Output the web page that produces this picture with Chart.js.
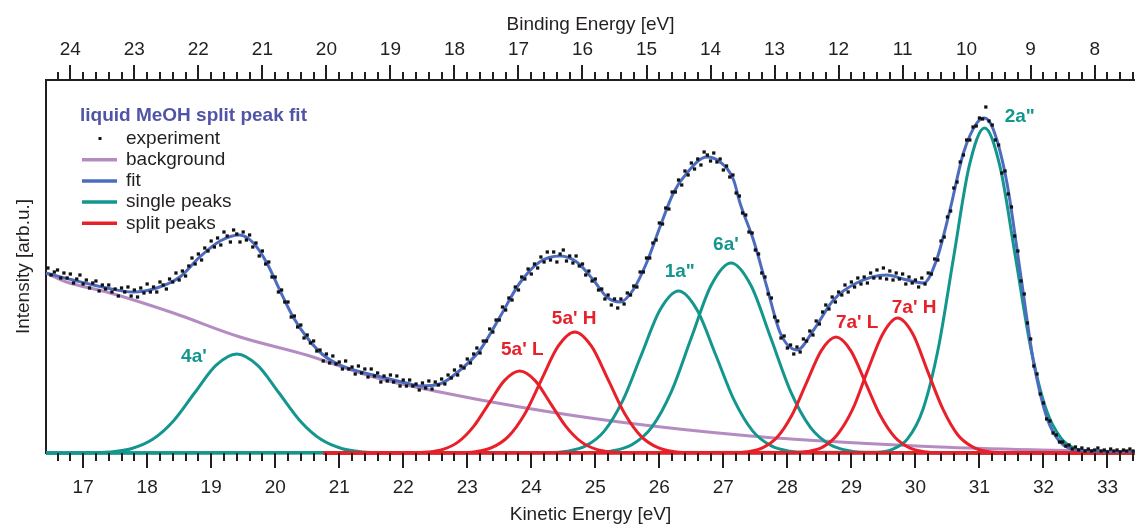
<!DOCTYPE html>
<html>
<head>
<meta charset="utf-8">
<script src="https://cdn.jsdelivr.net/npm/chart.js@4.4.1/dist/chart.umd.min.js"></script>
<style>
  html, body { margin: 0; padding: 0; background: #ffffff; }
  #contenedor { width: 1135px; height: 526px; }
</style>
</head>
<body>
<div id="contenedor"><canvas id="grafico" width="1135" height="526"></canvas></div>
<script>
// Espectro de fotoemisión de MeOH líquido (He II, 40.8 eV)
const energiaFoton = 40.8;
const keMin = 16.42;
const keMax = 33.43;

// Experimento: energía cinética inicial y paso (eV), 20 valores por línea (1 eV)
const expInicio = 16.45;
const expPaso = 0.05;
const experimento = [
  1.85,1.78,1.81,1.83,1.75,1.80,1.75,1.79,1.70,1.74,1.78,1.69,1.73,1.65,1.70,1.72,1.62,1.68,1.64,1.68,
  1.61,1.64,1.57,1.65,1.61,1.66,1.57,1.63,1.56,1.65,1.60,1.69,1.61,1.66,1.61,1.71,1.68,1.64,1.74,1.71,
  1.80,1.73,1.82,1.77,1.87,1.95,1.89,1.99,1.93,2.05,2.02,2.12,2.06,2.15,2.08,2.21,2.17,2.11,2.23,2.19,
  2.11,2.21,2.13,2.18,2.06,2.10,1.97,2.02,1.89,1.91,1.76,1.76,1.61,1.63,1.51,1.51,1.36,1.37,1.26,1.28,
  1.15,1.18,1.10,1.12,1.02,1.03,0.92,0.99,0.90,0.97,0.89,0.91,0.84,0.92,0.84,0.86,0.79,0.87,0.80,0.84,
  0.76,0.84,0.77,0.80,0.71,0.77,0.72,0.78,0.71,0.77,0.67,0.73,0.67,0.73,0.67,0.69,0.63,0.70,0.65,0.72,
  0.64,0.71,0.68,0.74,0.69,0.78,0.75,0.83,0.78,0.87,0.85,0.94,0.90,0.99,1.05,1.00,1.12,1.12,1.24,1.21,
  1.33,1.33,1.46,1.43,1.55,1.53,1.66,1.63,1.76,1.74,1.84,1.79,1.89,1.85,1.96,1.91,2.01,1.93,2.01,1.91,
  1.99,2.03,1.92,1.97,1.90,1.97,1.87,1.89,1.78,1.82,1.72,1.74,1.63,1.64,1.54,1.58,1.48,1.54,1.45,1.54,
  1.49,1.60,1.58,1.67,1.66,1.81,1.81,1.95,1.95,2.10,2.13,2.30,2.29,2.45,2.44,2.61,2.61,2.73,2.68,2.82,
  2.78,2.90,2.84,2.94,2.88,3.01,2.98,2.92,3.00,2.91,2.94,2.83,2.87,2.76,2.78,2.60,2.57,2.40,2.38,2.21,
  2.20,2.03,1.99,1.80,1.76,1.59,1.55,1.36,1.32,1.15,1.17,1.05,1.08,0.99,1.06,1.01,1.14,1.12,1.22,1.18,
  1.32,1.29,1.41,1.48,1.44,1.56,1.51,1.61,1.58,1.68,1.61,1.71,1.66,1.75,1.69,1.76,1.70,1.80,1.75,1.83,
  1.75,1.85,1.74,1.82,1.73,1.80,1.74,1.79,1.69,1.76,1.70,1.73,1.66,1.75,1.69,1.80,1.79,1.94,1.93,2.12,
  2.16,2.36,2.42,2.65,2.71,2.91,2.98,3.13,3.13,3.26,3.27,3.35,3.34,3.46,3.32,3.28,3.13,3.08,2.80,2.82,
  2.59,2.46,2.17,2.02,1.72,1.59,1.30,1.14,0.87,0.79,0.59,0.50,0.34,0.32,0.20,0.18,0.11,0.11,0.07,0.08,
  0.04,0.06,0.03,0.05,0.02,0.04,0.02,0.03,0.05,0.02,0.03,0.01,0.04,0.02,0.03,0.01,0.03,0.02,0.04,0.02
];

// Fondo y ajuste total: [energía cinética, intensidad]
const fondo = [
  [16.42,1.80],[16.74,1.71],[17.37,1.61],[18.41,1.40],[19.45,1.16],[20.49,0.98],[21.53,0.76],
  [22.57,0.61],[23.82,0.46],[25.38,0.31],[27.42,0.17],[28.82,0.11],[30.38,0.06],[31.95,0.03],[33.43,0.01]
];
const ajuste = [
  [16.42,1.80],[16.84,1.73],[17.37,1.65],[17.78,1.61],[18.15,1.65],[18.51,1.76],[18.82,1.96],
  [19.14,2.12],[19.44,2.18],[19.66,2.10],[19.87,1.90],[20.07,1.63],[20.28,1.36],[20.49,1.16],
  [20.75,0.98],[21.01,0.88],[21.53,0.78],[22.05,0.70],[22.26,0.67],[22.57,0.69],[22.89,0.83],
  [23.20,1.03],[23.51,1.36],[23.82,1.70],[24.13,1.91],[24.45,1.97],[24.71,1.91],[24.97,1.73],
  [25.18,1.56],[25.39,1.51],[25.59,1.63],[25.80,1.90],[26.01,2.26],[26.22,2.60],[26.43,2.80],
  [26.74,2.96],[26.95,2.91],[27.16,2.73],[27.26,2.50],[27.47,2.13],[27.68,1.66],[27.89,1.20],
  [28.15,1.03],[28.41,1.23],[28.72,1.53],[29.08,1.70],[29.55,1.78],[29.87,1.73],[30.13,1.70],
  [30.33,1.93],[30.54,2.43],[30.75,3.00],[30.96,3.30],[31.08,3.35],[31.22,3.23],[31.43,2.70],
  [31.64,1.80],[31.84,0.93],[32.05,0.36],[32.26,0.11],[32.57,0.03],[33.43,0.01]
];

// Picos individuales (single) y picos divididos (split)
const pico4a = [[16.42,0],[17.09,0.002],[17.42,0.011],[17.75,0.043],[18.08,0.134],[18.41,0.321],[18.74,0.600],[19.07,0.874],[19.40,0.99],[19.73,0.874],[20.06,0.600],[20.39,0.321],[20.72,0.134],[21.05,0.043],[21.38,0.011],[21.71,0.002],[33.43,0]];
const pico1a = [[16.42,0],[24.27,0.004],[24.56,0.018],[24.85,0.071],[25.14,0.219],[25.43,0.526],[25.72,0.983],[26.01,1.430],[26.30,1.62],[26.59,1.430],[26.88,0.983],[27.17,0.526],[27.46,0.219],[27.75,0.071],[28.04,0.018],[28.33,0.004],[33.43,0]];
const pico6a = [[16.42,0],[24.95,0.004],[25.26,0.021],[25.57,0.083],[25.88,0.257],[26.19,0.617],[26.50,1.152],[26.81,1.677],[27.12,1.90],[27.43,1.677],[27.74,1.152],[28.05,0.617],[28.36,0.257],[28.67,0.083],[28.98,0.021],[29.29,0.004],[33.43,0]];
const pico2a = [[16.42,0],[29.40,0.007],[29.64,0.036],[29.88,0.143],[30.12,0.440],[30.36,1.055],[30.60,1.971],[30.84,2.868],[31.08,3.25],[31.32,2.868],[31.56,1.971],[31.80,1.055],[32.04,0.440],[32.28,0.143],[32.52,0.036],[32.76,0.007],[33.43,0]];
const pico5aL = [[20.75,0],[22.14,0.002],[22.38,0.009],[22.62,0.036],[22.86,0.111],[23.10,0.266],[23.34,0.497],[23.58,0.724],[23.82,0.82],[24.06,0.724],[24.30,0.497],[24.54,0.266],[24.78,0.111],[25.02,0.036],[25.26,0.009],[25.50,0.002],[33.43,0]];
const pico5aH = [[20.75,0],[22.86,0.003],[23.12,0.013],[23.38,0.053],[23.64,0.164],[23.90,0.393],[24.16,0.734],[24.42,1.068],[24.68,1.21],[24.94,1.068],[25.20,0.734],[25.46,0.393],[25.72,0.164],[25.98,0.053],[26.24,0.013],[26.50,0.003],[33.43,0]];
const pico7aL = [[20.75,0],[27.15,0.003],[27.38,0.013],[27.61,0.051],[27.84,0.157],[28.07,0.377],[28.30,0.704],[28.53,1.024],[28.76,1.16],[28.99,1.024],[29.22,0.704],[29.45,0.377],[29.68,0.157],[29.91,0.051],[30.14,0.013],[30.37,0.003],[33.43,0]];
const pico7aH = [[20.75,0],[28.08,0.003],[28.31,0.015],[28.55,0.059],[28.78,0.183],[29.02,0.438],[29.25,0.819],[29.49,1.191],[29.72,1.35],[29.96,1.191],[30.19,0.819],[30.43,0.438],[30.66,0.183],[30.90,0.059],[31.13,0.015],[31.37,0.003],[33.43,0]];

// Etiquetas de los picos
const nombresPicos = ["4a'", "5a' L", "5a' H", '1a"', "6a'", "7a' L", "7a' H", '2a"'];
const etiquetaKE = [18.73, 23.86, 24.67, 26.32, 27.04, 29.09, 29.98, 31.63];
const etiquetaVal = [0.96, 1.03, 1.34, 1.81, 2.08, 1.30, 1.45, 3.36];
const etiquetaDividido = [false, true, true, false, false, true, true, false];

// Leyenda
const tituloLeyenda = 'liquid MeOH split peak fit';
const textosLeyenda = ['experiment', 'background', 'fit', 'single peaks', 'split peaks'];

const colorEjes = '#231f20';
const colorSingle = '#13968e';
const colorSplit = '#e8202a';
const colorFit = '#4d6cbf';
const colorFondo = '#b48cc2';
const colorTitulo = '#5154a6';
const fuente = '"Liberation Sans", Arial, sans-serif';

const aPuntos = (lista) => lista.map(p => ({ x: p[0], y: p[1] }));
const puntosExp = experimento.map((v, i) => ({ x: expInicio + i * expPaso, y: v }));

function lineaPico(datos, color) {
  return {
    data: aPuntos(datos), borderColor: color, borderWidth: 3, pointRadius: 0,
    cubicInterpolationMode: 'monotone', fill: false, clip: 3,
    order: color === colorSplit ? 2 : 3
  };
}

// Quitar el relleno automático que Chart.js reserva para las etiquetas
function ajustarEjeX(alto) {
  return (s) => { s.height = alto; s.paddingLeft = 0; s.paddingRight = 0; };
}

// Marcas menores y mayores de los ejes horizontales
const marcasEjes = {
  id: 'marcasEjes',
  afterDraw(chart) {
    const ctx = chart.ctx;
    ctx.save();
    ctx.strokeStyle = colorEjes;
    ctx.lineWidth = 2;
    ['x', 'x2'].forEach(id => {
      const s = chart.scales[id];
      const desde = Math.ceil(s.min * 5);
      const hasta = Math.floor(s.max * 5);
      for (let i = desde; i <= hasta; i++) {
        const px = Math.round(s.getPixelForValue(i / 5));
        const largo = i % 5 === 0 ? 15 : 8;
        ctx.beginPath();
        if (id === 'x') {
          ctx.moveTo(px, s.top); ctx.lineTo(px, s.top + largo);
        } else {
          ctx.moveTo(px, s.bottom); ctx.lineTo(px, s.bottom - largo);
        }
        ctx.stroke();
      }
    });
    ctx.restore();
  }
};

// Etiquetas de picos y leyenda
const textos = {
  id: 'textos',
  afterDraw(chart) {
    const ctx = chart.ctx;
    const sx = chart.scales.x;
    const sy = chart.scales.y;
    ctx.save();
    ctx.font = 'bold 19px ' + fuente;
    ctx.textAlign = 'center';
    ctx.textBaseline = 'middle';
    for (let i = 0; i < nombresPicos.length; i++) {
      ctx.fillStyle = etiquetaDividido[i] ? colorSplit : colorSingle;
      ctx.fillText(nombresPicos[i], sx.getPixelForValue(etiquetaKE[i]), sy.getPixelForValue(etiquetaVal[i]));
    }

    ctx.textAlign = 'left';
    ctx.fillStyle = colorTitulo;
    ctx.fillText(tituloLeyenda, 80, 116);
    const colores = [null, colorFondo, colorFit, colorSingle, colorSplit];
    ctx.font = '19px ' + fuente;
    for (let i = 0; i < textosLeyenda.length; i++) {
      const y = 138.5 + i * 21.2;
      if (i === 0) {
        ctx.fillStyle = '#111111';
        ctx.fillRect(98.5, y - 1.5, 3, 3);
      } else {
        ctx.strokeStyle = colores[i];
        ctx.lineWidth = 3.5;
        ctx.beginPath();
        ctx.moveTo(82, y);
        ctx.lineTo(117, y);
        ctx.stroke();
      }
      ctx.fillStyle = colorEjes;
      ctx.fillText(textosLeyenda[i], 126, y);
    }
    ctx.restore();
  }
};

const fuenteEje = { family: fuente, size: 19 };

new Chart(document.getElementById('grafico'), {
  type: 'line',
  data: {
    datasets: [
      { type: 'scatter', data: puntosExp, showLine: false, pointStyle: 'rect', pointRadius: 2.3,
        pointBackgroundColor: '#111111', pointBorderWidth: 0, order: 0 },
      { data: aPuntos(ajuste), borderColor: colorFit, borderWidth: 3, pointRadius: 0,
        cubicInterpolationMode: 'monotone', order: 1 },
      lineaPico(pico5aL, colorSplit),
      lineaPico(pico5aH, colorSplit),
      lineaPico(pico7aL, colorSplit),
      lineaPico(pico7aH, colorSplit),
      lineaPico(pico4a, colorSingle),
      lineaPico(pico1a, colorSingle),
      lineaPico(pico6a, colorSingle),
      lineaPico(pico2a, colorSingle),
      { data: aPuntos(fondo), borderColor: colorFondo, borderWidth: 3, pointRadius: 0,
        cubicInterpolationMode: 'monotone', order: 4 }
    ]
  },
  options: {
    responsive: false,
    animation: false,
    devicePixelRatio: 1,
    layout: { padding: 0, autoPadding: false },
    plugins: { legend: { display: false }, tooltip: { enabled: false } },
    scales: {
      x: {
        type: 'linear', position: 'bottom', min: keMin, max: keMax,
        afterFit: ajustarEjeX(73),
        ticks: { stepSize: 1, includeBounds: false, autoSkip: false, maxRotation: 0,
          color: colorEjes, font: fuenteEje, padding: 23 },
        grid: { display: false, drawTicks: false },
        border: { display: true, color: colorEjes, width: 2 },
        title: { display: true, text: 'Kinetic Energy [eV]', color: colorEjes, font: fuenteEje,
          padding: { top: 0, bottom: 0 } }
      },
      x2: {
        type: 'linear', position: 'top', reverse: true,
        min: energiaFoton - keMax, max: energiaFoton - keMin,
        afterFit: ajustarEjeX(80),
        ticks: { stepSize: 1, includeBounds: false, autoSkip: false, maxRotation: 0,
          color: colorEjes, font: fuenteEje, padding: 19 },
        grid: { display: false, drawTicks: false },
        border: { display: true, color: colorEjes, width: 2 },
        title: { display: true, text: 'Binding Energy [eV]', color: colorEjes, font: fuenteEje,
          padding: { top: 13, bottom: 0 } }
      },
      y: {
        type: 'linear', min: 0, max: 3.73,
        afterFit: (s) => { s.width = 46; s.paddingTop = 0; s.paddingBottom = 0; },
        ticks: { display: false },
        grid: { display: false, drawTicks: false },
        border: { display: true, color: colorEjes, width: 2 },
        title: { display: true, text: 'Intensity [arb.u.]', color: colorEjes, font: fuenteEje,
          padding: { top: 12, bottom: 0 } }
      }
    }
  },
  plugins: [marcasEjes, textos]
});
</script>
</body>
</html>
